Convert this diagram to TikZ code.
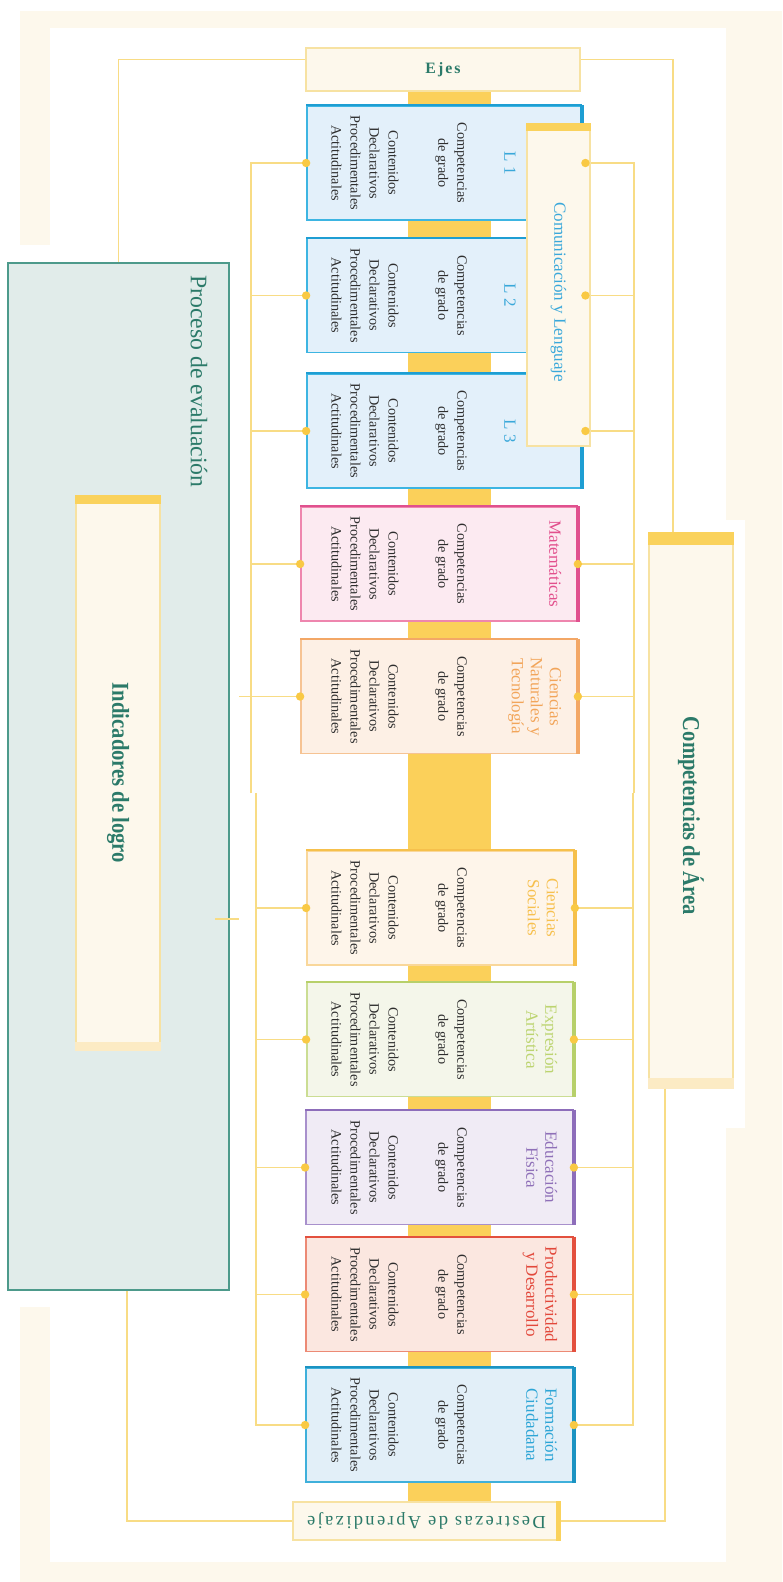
\documentclass[tikz,border=0pt]{standalone}
\usepackage{fontspec}
\setmainfont{Liberation Serif}
\newfontfamily\condfont[FakeStretch=0.85]{Liberation Serif}
\newfontfamily\spacedfont[LetterSpace=13]{Liberation Serif}
\usetikzlibrary{positioning,calc}

\definecolor{cream}{HTML}{FDF8EC}
\definecolor{tealtx}{HTML}{2B7A69}
\definecolor{procF}{HTML}{E1ECEA}
\definecolor{procD}{HTML}{4D9A8B}
\definecolor{spineY}{HTML}{FBD05A}
\definecolor{lineY}{HTML}{F8DC85}
\definecolor{dotY}{HTML}{F9C944}
\definecolor{stripY}{HTML}{FAD25C}
\definecolor{stripL}{HTML}{FCEBC4}
\definecolor{labelD}{HTML}{F7E2A2}
\definecolor{bodyC}{HTML}{2E2E2E}
% subject colours: F fill, D border, K dark edge, T title
\definecolor{lF}{HTML}{E3F0FA}\definecolor{lD}{HTML}{3DB5E2}\definecolor{lK}{HTML}{1E9ED3}\definecolor{lT}{HTML}{3AA8DA}
\definecolor{matF}{HTML}{FCEAF1}\definecolor{matD}{HTML}{EE86AE}\definecolor{matK}{HTML}{E0508E}\definecolor{matT}{HTML}{E2508D}
\definecolor{cnF}{HTML}{FDF0E5}\definecolor{cnD}{HTML}{F6C393}\definecolor{cnK}{HTML}{F3A766}\definecolor{cnT}{HTML}{F2A55A}
\definecolor{csF}{HTML}{FEF5EA}\definecolor{csD}{HTML}{F9D79A}\definecolor{csK}{HTML}{F6C04C}\definecolor{csT}{HTML}{F7C04E}
\definecolor{eaF}{HTML}{F4F6EA}\definecolor{eaD}{HTML}{CBDD93}\definecolor{eaK}{HTML}{B7D06A}\definecolor{eaT}{HTML}{BCD470}
\definecolor{efF}{HTML}{F0EBF5}\definecolor{efD}{HTML}{A890CC}\definecolor{efK}{HTML}{8D6DBA}\definecolor{efT}{HTML}{8F70B8}
\definecolor{pdF}{HTML}{FBE7E0}\definecolor{pdD}{HTML}{EC8A75}\definecolor{pdK}{HTML}{E3503E}\definecolor{pdT}{HTML}{E2483B}
\definecolor{fcF}{HTML}{E2EFF8}\definecolor{fcD}{HTML}{3FB0DB}\definecolor{fcK}{HTML}{1B93C2}\definecolor{fcT}{HTML}{2DA5D6}

\tikzset{
  subj/.style={rectangle, line width=1pt, inner sep=0pt},
  body/.style={rotate=-90, align=center, text=bodyC, inner sep=0pt, font=\fontsize{8.1}{10.8}\selectfont},
  ttl/.style={rotate=-90, align=center, inner sep=0pt, font=\fontsize{9.7}{10.8}\selectfont},
  bigt/.style={rotate=-90, text=tealtx, inner sep=0pt, font=\condfont\bfseries\fontsize{13.8}{16}\selectfont},
  label/.style={rectangle, draw=labelD, fill=cream, line width=0.8pt, inner sep=0pt},
  conn/.style={draw=lineY, line width=0.8pt},
  joint/.style={fill=dotY}
}

\begin{document}
\begin{tikzpicture}[x=0.02cm, y=-0.02cm]
  \useasboundingbox (0,0) rectangle (782,1582);
  % background
  \fill[white] (0,0) rectangle (782,1582);
  \fill[cream] (20,11) rectangle (782,1582);
  \fill[white] (50,28) rectangle (726,1562);
  \fill[white] (726,520) rectangle (745,1128);
  \fill[white] (0,245) rectangle (50,1307);

  % central band
  \fill[spineY] (408,91) rectangle (491,1502);

  % left block
  \node[subj, draw=procD, fill=procF, line width=1.2pt, minimum width={221*0.02cm}, minimum height={1027*0.02cm}] (proc) at (118.5,776.5) {};
  \node[rotate=-90, anchor=west, inner sep=0pt, text=tealtx, font=\fontsize{13.5}{16}\selectfont] (proc-t) at (199,275) {Proceso de evaluación};
  \node[label, minimum width={84*0.02cm}, minimum height={554*0.02cm}] (ind) at (118,773) {};
  \fill[stripY] (ind.north west) rectangle ([yshift=-5pt]ind.north east);
  \fill[stripL] ([yshift=5pt]ind.south west) rectangle (ind.south east);
  \node[bigt] (ind-t) at (ind) {Indicadores de logro};

  % right block
  \node[label, minimum width={84*0.02cm}, minimum height={555*0.02cm}] (comp) at (691,810.5) {};
  \fill[stripY] (comp.north west) rectangle ([yshift=-7pt]comp.north east);
  \fill[stripL] ([yshift=6pt]comp.south west) rectangle (comp.south east);
  \node[bigt] (comp-t) at ([yshift=-3pt]comp.center) {Competencias de Área};

  % top and bottom labels
  \node[label, minimum width={274*0.02cm}, minimum height={43*0.02cm}] (ejes) at (443,69.5) {};
  \node[text=tealtx, font=\spacedfont\bfseries\fontsize{9}{11}\selectfont] (ejes-t) at (ejes) {Ejes};
  \node[label, minimum width={267*0.02cm}, minimum height={38*0.02cm}] (destr) at (426.5,1521) {};
  \fill[stripY] ([xshift=-2.5pt]destr.north east) rectangle (destr.south east);
  \node[rotate=180, text=tealtx, font=\spacedfont\fontsize{10.5}{12}\selectfont] (destr-t) at (destr) {Destrezas de Aprendizaje};

  % subject boxes
  \foreach \nm/\yc/\xl/\xr/\cl in {l1/163/307/581/l, l2/295.5/307/581/l, l3/431/307/581/l,
      mat/564/301/577/mat, cn/696.5/301/577/cn, cs/908/307/574/cs, ea/1039.5/307/573/ea,
      ef/1167.5/306/573/ef, pd/1294.5/306/573/pd, fc/1425/306/573/fc}{
    \node[subj, draw=\cl D, fill=\cl F, minimum width={(\xr-\xl)*0.02cm}, minimum height={114*0.02cm}] (\nm) at ({(\xl+\xr)/2},\yc) {};
    \draw[\cl K, line width=1pt] (\nm.north west) -- (\nm.north east);
    \draw[\cl K, line width=2pt] (\nm.north east) -- (\nm.south east);
    \node[body] (\nm-c) at (451,\yc) {Competencias\\de grado};
    \node[body] (\nm-k) at (365,\yc) {Contenidos\\Declarativos\\Procedimentales\\Actitudinales};
  }
  \foreach \nm/\cl/\ttl in {mat/mat/Matemáticas, cn/cn/{Ciencias\\Naturales y\\Tecnología},
      cs/cs/{Ciencias\\Sociales}, ea/ea/{Expresión\\Artística}, ef/ef/{Educación\\Física},
      pd/pd/{Productividad\\y Desarrollo}, fc/fc/{Formación\\Ciudadana}}{
    \node[ttl, text=\cl T, anchor=north] (\nm-t) at ([xshift=-9.3pt]\nm.east) {\ttl};
  }
  \node[ttl, text=lT] (l1-t) at (510,163) {L 1};
  \node[ttl, text=lT] (l2-t) at (510,295.5) {L 2};
  \node[ttl, text=lT] (l3-t) at (510,431) {L 3};

  % language box over L1-L3
  \node[label, minimum width={63*0.02cm}, minimum height={322*0.02cm}] (com) at (558.5,285) {};
  \fill[stripY] (com.north west) rectangle ([yshift=-4.5pt]com.north east);
  \node[ttl, text=lT] (com-t) at ([yshift=-4pt]com.center) {Comunicación y Lenguaje};

  % connectors of the labels
  \draw[conn] ([yshift=5.7pt]ejes.west) -| (proc.north);
  \draw[conn] ([yshift=5.7pt]ejes.east) -| ([xshift=-10.2pt]comp.north);
  \draw[conn] ([xshift=4.8pt]proc.south) |- (destr.west);
  \draw[conn] ([xshift=-14.7pt]comp.south) |- (destr.east);

  % left buses
  \coordinate (lbusA) at (251,793);
  \coordinate (lbusB) at (256,793);
  \draw[conn] (lbusA) |- (l1.west);
  \foreach \nm in {l2,l3,mat}
    \draw[conn] (\nm.west) -- (\nm.west -| lbusA);
  \draw[conn] (cn.west) -- ([xshift=-6.8pt]cn.west -| lbusA);
  \draw[conn] (lbusB) |- (fc.west);
  \foreach \nm in {cs,ea,ef,pd}
    \draw[conn] (\nm.west) -- (\nm.west -| lbusB);
  \coordinate (ptick) at (215,919);
  \draw[conn] (ptick) -- ++(24,0);

  % right buses
  \coordinate (rbusA) at (634,793);
  \coordinate (rbusB) at (633,793);
  \draw[conn] (rbusA) |- (com.east |- l1.center);
  \foreach \nm in {l2,l3}
    \draw[conn] (com.east |- \nm.center) -- (rbusA |- \nm.center);
  \foreach \nm in {mat,cn}
    \draw[conn] (\nm.east) -- (\nm.east -| rbusA);
  \draw[conn] (rbusB) |- (fc.east);
  \foreach \nm in {cs,ea,ef,pd}
    \draw[conn] (\nm.east) -- (\nm.east -| rbusB);

  % dots
  \foreach \nm in {l1,l2,l3,mat,cn,cs,ea,ef,pd,fc}
    \fill[joint] (\nm.west) circle (2.4pt);
  \foreach \nm in {mat,cn,cs,ea,ef,pd,fc}
    \fill[joint] (\nm.east) circle (2.4pt);
  \foreach \nm in {l1,l2,l3}
    \fill[joint] ([xshift=-3pt]com.east |- \nm.center) circle (2.4pt);
\end{tikzpicture}
\end{document}
